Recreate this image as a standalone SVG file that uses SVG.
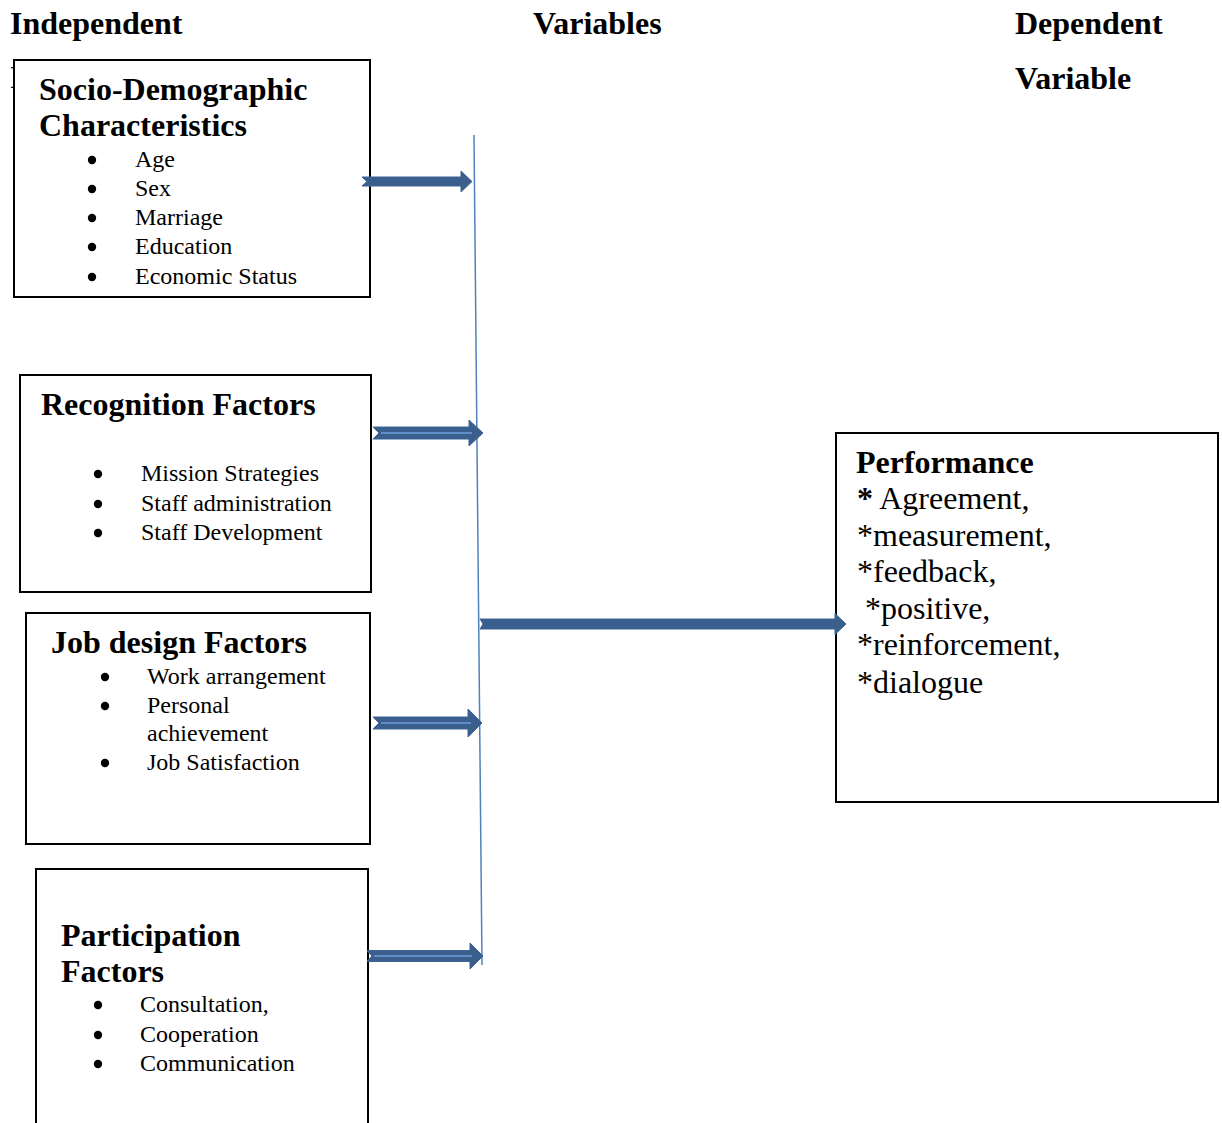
<svg xmlns="http://www.w3.org/2000/svg" width="1222" height="1123" viewBox="0 0 1222 1123">
<style>
.hd{font-family:"Liberation Serif","Times New Roman",serif;font-weight:bold;font-size:32px;fill:#000}
.it{font-family:"Liberation Serif","Times New Roman",serif;font-size:24px;fill:#000}
.pf{font-family:"Liberation Serif","Times New Roman",serif;font-size:32px;fill:#000}
.bl{fill:#000}
.box{fill:#fff;stroke:#000;stroke-width:2}
.arr{fill:#3A5F8D;stroke:#3D6497;stroke-width:1}
.hl{stroke:#5F8DC8;stroke-width:2;fill:none}
.vl{stroke:#4F81BD;stroke-width:1.5;fill:none}
</style>
<defs>
<circle id="dot" r="4.2"/>
</defs>
<rect width="1222" height="1123" fill="#fff"/>
<g id="headers">
<text class="hd" x="10" y="34">Independent</text>
<text class="hd" x="533" y="34">Variables</text>
<text class="hd" x="1015" y="34">Dependent</text>
<text class="hd" x="1015" y="89">Variable</text>
<text class="hd" x="10" y="88">I</text>
</g>
<g id="connectors">
<path class="vl" d="M474,135 L482,965"/>
</g>
<g id="node-socio">
<rect class="box" x="14" y="60" width="356" height="237"/>
<text class="hd" x="39" y="100">Socio-Demographic</text>
<text class="hd" x="39" y="136">Characteristics</text>
<use href="#dot" class="bl" x="92" y="160"/><text class="it" x="135" y="167">Age</text>
<use href="#dot" class="bl" x="92" y="189"/><text class="it" x="135" y="196">Sex</text>
<use href="#dot" class="bl" x="92" y="218"/><text class="it" x="135" y="225">Marriage</text>
<use href="#dot" class="bl" x="92" y="247"/><text class="it" x="135" y="254">Education</text>
<use href="#dot" class="bl" x="92" y="277"/><text class="it" x="135" y="284">Economic Status</text>
</g>
<g id="node-recognition">
<rect class="box" x="20" y="375" width="351" height="217"/>
<text class="hd" x="41" y="415">Recognition Factors</text>
<use href="#dot" class="bl" x="98" y="474"/><text class="it" x="141" y="481">Mission Strategies</text>
<use href="#dot" class="bl" x="98" y="504"/><text class="it" x="141" y="511">Staff administration</text>
<use href="#dot" class="bl" x="98" y="533"/><text class="it" x="141" y="540">Staff Development</text>
</g>
<g id="node-jobdesign">
<rect class="box" x="26" y="613" width="344" height="231"/>
<text class="hd" x="51" y="653">Job design Factors</text>
<use href="#dot" class="bl" x="105" y="677"/><text class="it" x="147" y="684">Work arrangement</text>
<use href="#dot" class="bl" x="105" y="706"/><text class="it" x="147" y="713">Personal</text>
<text class="it" x="147" y="741">achievement</text>
<use href="#dot" class="bl" x="105" y="763"/><text class="it" x="147" y="770">Job Satisfaction</text>
</g>
<g id="node-participation">
<rect class="box" x="36" y="869" width="332" height="270"/>
<text class="hd" x="61" y="946">Participation</text>
<text class="hd" x="61" y="982">Factors</text>
<use href="#dot" class="bl" x="98" y="1005"/><text class="it" x="140" y="1012">Consultation,</text>
<use href="#dot" class="bl" x="98" y="1035"/><text class="it" x="140" y="1042">Cooperation</text>
<use href="#dot" class="bl" x="98" y="1064"/><text class="it" x="140" y="1071">Communication</text>
</g>
<g id="node-performance">
<rect class="box" x="836" y="433" width="382" height="369"/>
<text class="hd" x="856" y="473">Performance</text>
<text class="pf" x="857" y="509"><tspan font-weight="bold">*</tspan> Agreement,</text>
<text class="pf" x="857" y="546">*measurement,</text>
<text class="pf" x="857" y="582">*feedback,</text>
<text class="pf" x="865" y="619">*positive,</text>
<text class="pf" x="857" y="655">*reinforcement,</text>
<text class="pf" x="857" y="693">*dialogue</text>
</g>
<g id="arrows">
<path class="arr" d="M362,177 L461,177 L461,171 L472,181.5 L461,192 L461,186 L362,186 L367,181.5 Z"/>
<path class="arr" d="M373,427 L469,427 L469,420 L483,433 L469,446 L469,439 L373,439 L379,433 Z"/>
<path class="hl" d="M381,433 L472,433"/>
<path class="arr" d="M373,717 L468,717 L468,709 L482,723 L468,737 L468,729 L373,729 L379,723 Z"/>
<path class="hl" d="M381,723 L471,723"/>
<path class="arr" d="M367,950.5 L470,950.5 L470,943 L483,956 L470,969 L470,961.5 L367,961.5 L372,956 Z"/>
<path class="hl" d="M374,956 L472,956"/>
<path class="arr" d="M480,619 L835,619 L835,613.5 L846,624 L835,634.5 L835,629 L480,629 L483,624 Z"/>
</g>
</svg>
